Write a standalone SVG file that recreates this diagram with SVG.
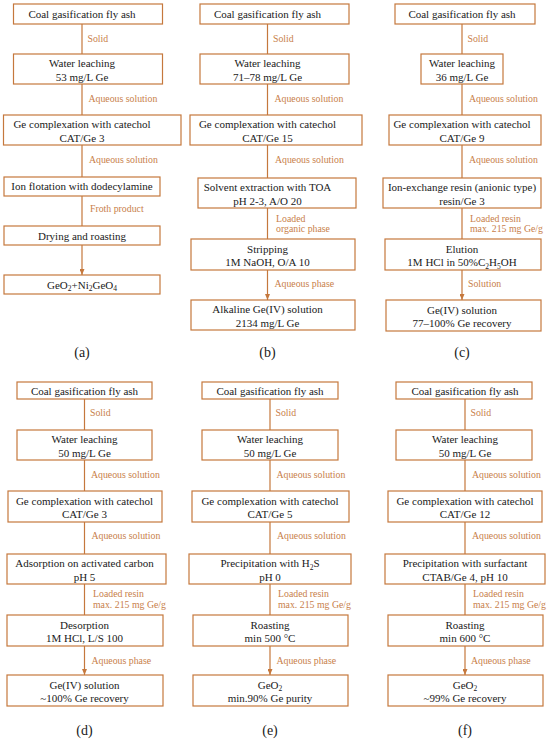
<svg xmlns="http://www.w3.org/2000/svg" width="550" height="741" viewBox="0 0 550 741">
<style>
.bx{fill:#fff;stroke:#C5783D;stroke-width:1.2}
.t{font-family:"Liberation Serif","Times New Roman",serif;font-size:11px;fill:#1a1a1a;text-anchor:middle}
.l{font-family:"Liberation Serif","Times New Roman",serif;font-size:9.8px;fill:#C8804A}
.c{stroke:#C5783D;stroke-width:1.2;fill:none;marker-end:url(#ah)}
.p{font-family:"Liberation Serif","Times New Roman",serif;font-size:14px;fill:#1a1a1a;text-anchor:middle}
.s{font-size:7.5px}
</style>
<defs>
<marker id="ah" markerUnits="userSpaceOnUse" markerWidth="6" markerHeight="5" refX="6" refY="2.5" orient="auto"><path d="M0,0 L6,2.5 L0,5 z" fill="#C5783D"/></marker>
</defs>
<rect width="550" height="741" fill="#fff"/>
<g id="connectors">
<path class="c" d="M82,24 V54 M82,84 V115 M82,145 V177 M82,196 V226 M82,245 V275"/>
<path class="c" d="M267.5,24 V54 M267.5,84 V115 M267.5,145 V178 M267.5,208 V239 M267.5,270 V300"/>
<path class="c" d="M462,24 V54 M462,84 V115 M462,145 V178 M462,208 V239 M462,270 V300"/>
<path class="c" d="M84.5,399 V430 M84.5,460 V491 M84.5,522 V554 M84.5,584 V615 M84.5,646 V675"/>
<path class="c" d="M270,399 V430 M270,460 V491 M270,522 V554 M270,584 V615 M270,646 V675"/>
<path class="c" d="M465,399 V430 M465,460 V491 M465,522 V554 M465,584 V615 M465,646 V675"/>
</g>
<g id="edge-labels">
<text class="l" x="87.5" y="42">Solid</text>
<text class="l" x="88.5" y="102">Aqueous solution</text>
<text class="l" x="89" y="163">Aqueous solution</text>
<text class="l" x="90" y="212">Froth product</text>
<text class="l" x="273" y="42">Solid</text>
<text class="l" x="274.5" y="102">Aqueous solution</text>
<text class="l" x="275" y="163">Aqueous solution</text>
<text class="l" x="276" y="222">Loaded</text>
<text class="l" x="276" y="232">organic phase</text>
<text class="l" x="274.5" y="287">Aqueous phase</text>
<text class="l" x="467.5" y="42">Solid</text>
<text class="l" x="469" y="102">Aqueous solution</text>
<text class="l" x="469" y="163">Aqueous solution</text>
<text class="l" x="470" y="222">Loaded resin</text>
<text class="l" x="470" y="232">max. 215 mg Ge/g</text>
<text class="l" x="468" y="287">Solution</text>
<text class="l" x="90" y="416">Solid</text>
<text class="l" x="91" y="478">Aqueous solution</text>
<text class="l" x="91.5" y="539">Aqueous solution</text>
<text class="l" x="93" y="597">Loaded resin</text>
<text class="l" x="93" y="608">max. 215 mg Ge/g</text>
<text class="l" x="91.5" y="664">Aqueous phase</text>
<text class="l" x="275.5" y="416">Solid</text>
<text class="l" x="276.5" y="478">Aqueous solution</text>
<text class="l" x="277" y="539">Aqueous solution</text>
<text class="l" x="278" y="597">Loaded resin</text>
<text class="l" x="278" y="608">max. 215 mg Ge/g</text>
<text class="l" x="276.5" y="664">Aqueous phase</text>
<text class="l" x="470.5" y="416">Solid</text>
<text class="l" x="472" y="478">Aqueous solution</text>
<text class="l" x="472" y="539">Aqueous solution</text>
<text class="l" x="473" y="597">Loaded resin</text>
<text class="l" x="473" y="608">max. 215 mg Ge/g</text>
<text class="l" x="471" y="664">Aqueous phase</text>
</g>
<!-- panel a -->
<g id="a1"><rect class="bx" x="13.5" y="4" width="149" height="20"/><text class="t" x="82" y="18">Coal gasification fly ash</text></g>
<g id="a2"><rect class="bx" x="13.5" y="54" width="149" height="30"/><text class="t" x="82" y="67">Water leaching</text><text class="t" x="82" y="80.5">53 mg/L Ge</text></g>
<g id="a3"><rect class="bx" x="3.5" y="115" width="177.5" height="30"/><text class="t" x="82" y="128">Ge complexation with catechol</text><text class="t" x="82" y="141.5">CAT/Ge 3</text></g>
<g id="a4"><rect class="bx" x="4" y="177" width="156" height="19"/><text class="t" x="82" y="190">Ion flotation with dodecylamine</text></g>
<g id="a5"><rect class="bx" x="4" y="226" width="156" height="19"/><text class="t" x="82" y="239.5">Drying and roasting</text></g>
<g id="a6"><rect class="bx" x="4" y="275" width="156" height="19"/><text class="t" x="82" y="288.5">GeO<tspan class="s" dy="2.5">2</tspan><tspan dy="-2.5">+Ni</tspan><tspan class="s" dy="2.5">2</tspan><tspan dy="-2.5">GeO</tspan><tspan class="s" dy="2.5">4</tspan></text></g>
<text class="p" x="82" y="357">(a)</text>
<!-- panel b -->
<g id="b1"><rect class="bx" x="200" y="4" width="149" height="20"/><text class="t" x="267.5" y="18">Coal gasification fly ash</text></g>
<g id="b2"><rect class="bx" x="200" y="54" width="149" height="30"/><text class="t" x="267.5" y="67">Water leaching</text><text class="t" x="267.5" y="80.5">71–78 mg/L Ge</text></g>
<g id="b3"><rect class="bx" x="190" y="115" width="172" height="30"/><text class="t" x="267.5" y="128">Ge complexation with catechol</text><text class="t" x="267.5" y="141.5">CAT/Ge 15</text></g>
<g id="b4"><rect class="bx" x="198" y="178" width="158" height="30"/><text class="t" x="267.5" y="191">Solvent extraction with TOA</text><text class="t" x="267.5" y="204.5">pH 2-3, A/O 20</text></g>
<g id="b5"><rect class="bx" x="191" y="239" width="164" height="31"/><text class="t" x="267.5" y="252.5">Stripping</text><text class="t" x="267.5" y="266">1M NaOH, O/A 10</text></g>
<g id="b6"><rect class="bx" x="191" y="300" width="164" height="30"/><text class="t" x="267.5" y="313">Alkaline Ge(IV) solution</text><text class="t" x="267.5" y="326.5">2134 mg/L Ge</text></g>
<text class="p" x="267.5" y="357">(b)</text>
<!-- panel c -->
<g id="c1"><rect class="bx" x="395" y="4" width="140" height="20"/><text class="t" x="462" y="18">Coal gasification fly ash</text></g>
<g id="c2"><rect class="bx" x="421" y="54" width="82" height="30"/><text class="t" x="462" y="67">Water leaching</text><text class="t" x="462" y="80.5">36 mg/L Ge</text></g>
<g id="c3"><rect class="bx" x="389" y="115" width="152" height="30"/><text class="t" x="462" y="128">Ge complexation with catechol</text><text class="t" x="462" y="141.5">CAT/Ge 9</text></g>
<g id="c4"><rect class="bx" x="383" y="178" width="158" height="30"/><text class="t" x="462" y="191">Ion-exchange resin (anionic type)</text><text class="t" x="462" y="204.5">resin/Ge 3</text></g>
<g id="c5"><rect class="bx" x="385" y="239" width="156" height="31"/><text class="t" x="462" y="252.5">Elution</text><text class="t" x="462" y="266">1M HCl in 50%C<tspan class="s" dy="2.5">2</tspan><tspan dy="-2.5">H</tspan><tspan class="s" dy="2.5">5</tspan><tspan dy="-2.5">OH</tspan></text></g>
<g id="c6"><rect class="bx" x="386" y="300" width="155" height="31"/><text class="t" x="462" y="313.5">Ge(IV) solution</text><text class="t" x="462" y="327">77–100% Ge recovery</text></g>
<text class="p" x="462" y="357">(c)</text>
<!-- panel d -->
<g id="d1"><rect class="bx" x="17" y="382" width="135" height="17"/><text class="t" x="84.5" y="394.5">Coal gasification fly ash</text></g>
<g id="d2"><rect class="bx" x="17" y="430" width="135" height="30"/><text class="t" x="84.5" y="443">Water leaching</text><text class="t" x="84.5" y="456.5">50 mg/L Ge</text></g>
<g id="d3"><rect class="bx" x="8" y="491" width="154" height="31"/><text class="t" x="84.5" y="504.5">Ge complexation with catechol</text><text class="t" x="84.5" y="518">CAT/Ge 3</text></g>
<g id="d4"><rect class="bx" x="7" y="554" width="159" height="30"/><text class="t" x="84.5" y="567">Adsorption on activated carbon</text><text class="t" x="84.5" y="580.5">pH 5</text></g>
<g id="d5"><rect class="bx" x="7" y="615" width="156" height="31"/><text class="t" x="84.5" y="628.5">Desorption</text><text class="t" x="84.5" y="642">1M HCl, L/S 100</text></g>
<g id="d6"><rect class="bx" x="7" y="675" width="156" height="31"/><text class="t" x="84.5" y="688.5">Ge(IV) solution</text><text class="t" x="84.5" y="702">~100% Ge recovery</text></g>
<text class="p" x="84.5" y="735">(d)</text>
<!-- panel e -->
<g id="e1"><rect class="bx" x="202" y="382" width="136" height="17"/><text class="t" x="270" y="394.5">Coal gasification fly ash</text></g>
<g id="e2"><rect class="bx" x="202" y="430" width="136" height="30"/><text class="t" x="270" y="443">Water leaching</text><text class="t" x="270" y="456.5">50 mg/L Ge</text></g>
<g id="e3"><rect class="bx" x="192" y="491" width="157" height="31"/><text class="t" x="270" y="504.5">Ge complexation with catechol</text><text class="t" x="270" y="518">CAT/Ge 5</text></g>
<g id="e4"><rect class="bx" x="189" y="554" width="162" height="30"/><text class="t" x="270" y="567">Precipitation with H<tspan class="s" dy="2.5">2</tspan><tspan dy="-2.5">S</tspan></text><text class="t" x="270" y="580.5">pH 0</text></g>
<g id="e5"><rect class="bx" x="193" y="615" width="155" height="31"/><text class="t" x="270" y="628.5">Roasting</text><text class="t" x="270" y="642">min 500 °C</text></g>
<g id="e6"><rect class="bx" x="193" y="675" width="155" height="31"/><text class="t" x="270" y="688.5">GeO<tspan class="s" dy="2.5">2</tspan></text><text class="t" x="270" y="702">min.90% Ge purity</text></g>
<text class="p" x="270" y="735">(e)</text>
<!-- panel f -->
<g id="f1"><rect class="bx" x="396" y="382" width="136" height="17"/><text class="t" x="465" y="394.5">Coal gasification fly ash</text></g>
<g id="f2"><rect class="bx" x="396" y="430" width="136" height="30"/><text class="t" x="465" y="443">Water leaching</text><text class="t" x="465" y="456.5">50 mg/L Ge</text></g>
<g id="f3"><rect class="bx" x="388" y="491" width="154" height="31"/><text class="t" x="465" y="504.5">Ge complexation with catechol</text><text class="t" x="465" y="518">CAT/Ge 12</text></g>
<g id="f4"><rect class="bx" x="385" y="554" width="160" height="30"/><text class="t" x="465" y="567">Precipitation with surfactant</text><text class="t" x="465" y="580.5">CTAB/Ge 4, pH 10</text></g>
<g id="f5"><rect class="bx" x="388" y="615" width="155" height="31"/><text class="t" x="465" y="628.5">Roasting</text><text class="t" x="465" y="642">min 600 °C</text></g>
<g id="f6"><rect class="bx" x="388" y="675" width="155" height="31"/><text class="t" x="465" y="688.5">GeO<tspan class="s" dy="2.5">2</tspan></text><text class="t" x="465" y="702">~99% Ge recovery</text></g>
<text class="p" x="465" y="735">(f)</text>
</svg>
